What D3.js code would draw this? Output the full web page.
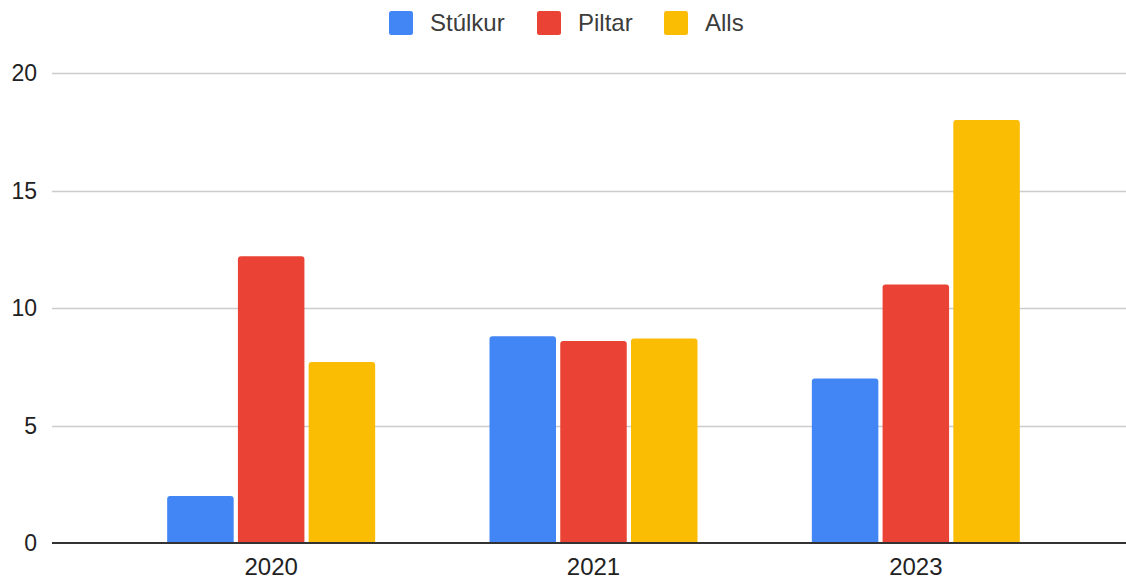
<!DOCTYPE html>
<html>
<head>
<meta charset="utf-8">
<script src="https://cdn.jsdelivr.net/npm/d3@7"></script>
<style>
  html, body { margin: 0; padding: 0; background: #fff; }
  svg { display: block; font-family: "Liberation Sans", Arial, sans-serif; }
</style>
</head>
<body>
<svg id="chart" width="1126" height="579"></svg>
<script>
const years = ["2020", "2021", "2023"];
const seriesNames = ["Stúlkur", "Piltar", "Alls"];
const stulkur = [2, 8.8, 7];
const piltar = [12.2, 8.6, 11];
const alls = [7.7, 8.7, 18];
const yTicks = [0, 5, 10, 15, 20];
const colors = ["#4285F4", "#EA4335", "#FBBC04"];

const seriesValues = [stulkur, piltar, alls];
const data = years.map((yr, i) => ({
  year: yr,
  values: seriesNames.map((s, j) => ({ key: s, value: seriesValues[j][i], color: colors[j] }))
}));

const svg = d3.select("#chart");
const plotLeft = 52, plotRight = 1126;

const y = d3.scaleLinear().domain([0, 20]).range([543, 73]);
const x0 = d3.scaleBand().domain(years).range([110, 1077]);
const groupW = 208;
const x1 = d3.scaleBand().domain(seriesNames).range([0, groupW]).paddingInner(0.06);

// gridlines
svg.append("g").selectAll("line").data(yTicks.filter(t => t !== 0)).join("line")
  .attr("x1", plotLeft).attr("x2", plotRight)
  .attr("y1", d => Math.round(y(d)) + 0.5).attr("y2", d => Math.round(y(d)) + 0.5)
  .attr("stroke", "#cccccc").attr("stroke-width", 1.3);

// y labels
svg.append("g").selectAll("text").data(yTicks).join("text")
  .attr("x", 37).attr("y", d => y(d))
  .attr("dy", "0.36em")
  .attr("text-anchor", "end")
  .attr("font-size", 23)
  .attr("fill", "#222")
  .text(d => d);

function roundTopRect(x, yTop, w, h, r) {
  r = Math.min(r, h, w / 2);
  return `M${x},${yTop + h}V${yTop + r}Q${x},${yTop} ${x + r},${yTop}H${x + w - r}Q${x + w},${yTop} ${x + w},${yTop + r}V${yTop + h}Z`;
}

// bars
const groups = svg.append("g").selectAll("g").data(data).join("g")
  .attr("transform", d => `translate(${x0(d.year) + x0.bandwidth() / 2 - groupW / 2},0)`);
groups.selectAll("path").data(d => d.values).join("path")
  .attr("d", d => roundTopRect(x1(d.key), y(d.value), x1.bandwidth(), y(0) - y(d.value), 3))
  .attr("fill", d => d.color);

// baseline
svg.append("line")
  .attr("x1", plotLeft).attr("x2", plotRight)
  .attr("y1", y(0)).attr("y2", y(0))
  .attr("stroke", "#333").attr("stroke-width", 2);

// x labels
svg.append("g").selectAll("text").data(years).join("text")
  .attr("x", d => x0(d) + x0.bandwidth() / 2)
  .attr("y", 566).attr("dy", "0.36em")
  .attr("text-anchor", "middle")
  .attr("font-size", 24)
  .attr("fill", "#222")
  .text(d => d);

// legend
const legendX = [389, 537, 664];
const legend = svg.append("g").selectAll("g").data(seriesNames).join("g")
  .attr("transform", (d, i) => `translate(${legendX[i]},11)`);
legend.append("rect")
  .attr("width", 24).attr("height", 24).attr("rx", 2.5)
  .attr("fill", (d, i) => colors[i]);
legend.append("text")
  .attr("x", 41).attr("y", 11).attr("dy", "0.36em")
  .attr("font-size", 24).attr("fill", "#3c3c3c")
  .text(d => d);
</script>
</body>
</html>
